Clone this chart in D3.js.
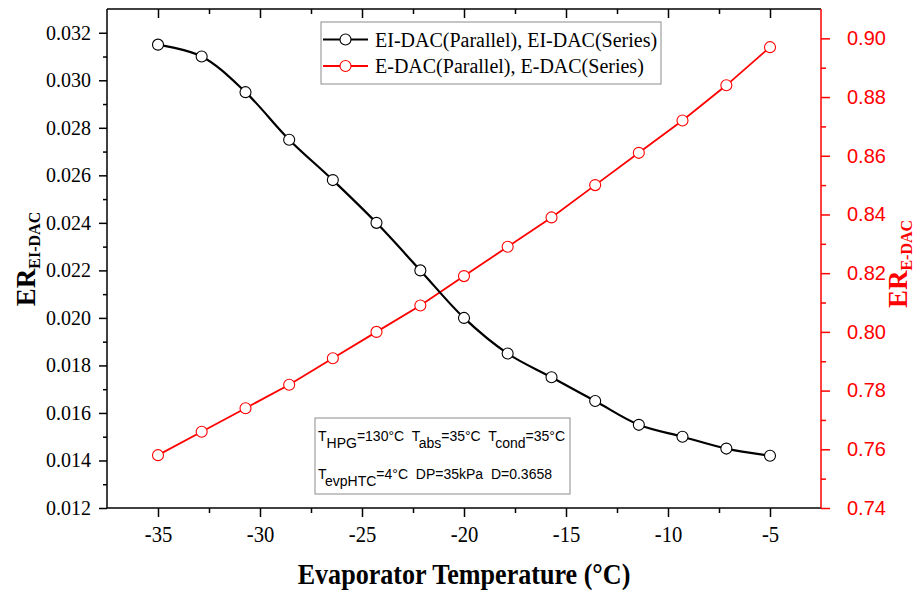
<!DOCTYPE html>
<html>
<head>
<meta charset="utf-8">
<script src="https://cdn.jsdelivr.net/npm/d3@7"></script>
<style>
  body { margin: 0; background: #fff; }
  svg { font-family: "Liberation Serif", "Times New Roman", serif; }
  .serif { font-family: "Liberation Serif", "Times New Roman", serif; }
  .sans { font-family: "Liberation Sans", Arial, sans-serif; }
</style>
</head>
<body>
<div id="chart"></div>
<script>
// Datos
const temperaturas = [-35, -32.86, -30.71, -28.57, -26.43, -24.29, -22.14, -20, -17.86, -15.71, -13.57, -11.43, -9.29, -7.14, -5];
const erEIDAC = [0.0315, 0.0310, 0.0295, 0.0275, 0.0258, 0.0240, 0.0220, 0.0200, 0.0185, 0.0175, 0.0165, 0.0155, 0.0150, 0.0145, 0.0142];
const erEDAC = [0.758, 0.766, 0.774, 0.782, 0.791, 0.800, 0.809, 0.819, 0.829, 0.839, 0.850, 0.861, 0.872, 0.884, 0.897];

const ticksX = [-35, -30, -25, -20, -15, -10, -5];
const ticksIzq = [0.012, 0.014, 0.016, 0.018, 0.020, 0.022, 0.024, 0.026, 0.028, 0.030, 0.032];
const ticksDer = [0.74, 0.76, 0.78, 0.80, 0.82, 0.84, 0.86, 0.88, 0.90];

const width = 918;
const height = 592;
const m = { left: 107, right: 821, top: 9, bottom: 508 };

const svg = d3.select("#chart")
    .append("svg")
    .attr("width", width)
    .attr("height", height);

const x = d3.scaleLinear().domain([-37.5, -2.5]).range([m.left, m.right]);
const yIzq = d3.scaleLinear().domain([0.012, 0.033]).range([m.bottom, m.top]);
const yDer = d3.scaleLinear().domain([0.74, 0.91]).range([m.bottom, m.top]);

// Ticks menores a mitad de intervalo
const menores = arr => arr.slice(0, -1).map((v, i) => (v + arr[i + 1]) / 2);

function estilo(g, color, clase, tam) {
    g.attr("font-family", null).attr("font-size", null);
    g.select(".domain").remove();
    g.selectAll("line").attr("stroke", color).attr("stroke-width", 1.5);
    g.selectAll("text").attr("fill", color).attr("class", clase).style("font-size", (tam || 20) + "px");
}

// Eje inferior (etiquetas algo estrechas, como en el original)
svg.append("g").attr("transform", `translate(0,${m.bottom})`)
    .call(d3.axisBottom(x).tickValues(ticksX).tickSize(9).tickPadding(8).tickFormat(d => String(d)))
    .call(g => estilo(g, "#000", "serif", 24))
    .call(g => g.selectAll("text").attr("transform", "scale(0.86,1)"));
svg.append("g").attr("transform", `translate(0,${m.bottom})`)
    .call(d3.axisBottom(x).tickValues(menores(ticksX)).tickSize(5).tickFormat(""))
    .call(g => estilo(g, "#000", "serif"));

// Eje superior (ticks hacia dentro)
svg.append("g").attr("transform", `translate(0,${m.top})`)
    .call(d3.axisTop(x).tickValues(ticksX).tickSize(-9).tickFormat(""))
    .call(g => estilo(g, "#000", "serif"));
svg.append("g").attr("transform", `translate(0,${m.top})`)
    .call(d3.axisTop(x).tickValues(menores(ticksX)).tickSize(-5).tickFormat(""))
    .call(g => estilo(g, "#000", "serif"));

// Eje izquierdo
svg.append("g").attr("transform", `translate(${m.left},0)`)
    .call(d3.axisLeft(yIzq).tickValues(ticksIzq).tickSize(8).tickPadding(8).tickFormat(d3.format(".3f")))
    .call(g => estilo(g, "#000", "serif"));
svg.append("g").attr("transform", `translate(${m.left},0)`)
    .call(d3.axisLeft(yIzq).tickValues(menores(ticksIzq)).tickSize(4).tickFormat(""))
    .call(g => estilo(g, "#000", "serif"));

// Eje derecho
svg.append("g").attr("transform", `translate(${m.right},0)`)
    .call(d3.axisRight(yDer).tickValues(ticksDer).tickSize(9).tickPadding(17).tickFormat(d3.format(".2f")))
    .call(g => estilo(g, "#ff0000", "sans"));
svg.append("g").attr("transform", `translate(${m.right},0)`)
    .call(d3.axisRight(yDer).tickValues(menores(ticksDer)).tickSize(5).tickFormat(""))
    .call(g => estilo(g, "#ff0000", "sans"));

// Marco
svg.append("line").attr("x1", m.left).attr("x2", m.right).attr("y1", m.top).attr("y2", m.top)
    .attr("stroke", "#000").attr("stroke-width", 1.5);
svg.append("line").attr("x1", m.left).attr("x2", m.right).attr("y1", m.bottom).attr("y2", m.bottom)
    .attr("stroke", "#000").attr("stroke-width", 1.5);
svg.append("line").attr("x1", m.left).attr("x2", m.left).attr("y1", m.top).attr("y2", m.bottom)
    .attr("stroke", "#000").attr("stroke-width", 1.5);
svg.append("line").attr("x1", m.right).attr("x2", m.right).attr("y1", m.top).attr("y2", m.bottom)
    .attr("stroke", "#ff0000").attr("stroke-width", 1.5);

// Series
const datosNegro = temperaturas.map((t, i) => ({ t, v: erEIDAC[i] }));
const datosRojo = temperaturas.map((t, i) => ({ t, v: erEDAC[i] }));

const lineaNegra = d3.line().x(d => x(d.t)).y(d => yIzq(d.v)).curve(d3.curveCatmullRom);
const lineaRoja = d3.line().x(d => x(d.t)).y(d => yDer(d.v));

svg.append("path").datum(datosRojo)
    .attr("d", lineaRoja).attr("fill", "none").attr("stroke", "#ff0000").attr("stroke-width", 1.8);
svg.append("path").datum(datosNegro)
    .attr("d", lineaNegra).attr("fill", "none").attr("stroke", "#000").attr("stroke-width", 2.2);

svg.selectAll("circle.rojo").data(datosRojo).enter().append("circle")
    .attr("class", "rojo")
    .attr("cx", d => x(d.t)).attr("cy", d => yDer(d.v)).attr("r", 5.5)
    .attr("fill", "#fff").attr("stroke", "#ff0000").attr("stroke-width", 1.1);
svg.selectAll("circle.negro").data(datosNegro).enter().append("circle")
    .attr("class", "negro")
    .attr("cx", d => x(d.t)).attr("cy", d => yIzq(d.v)).attr("r", 5.5)
    .attr("fill", "#fff").attr("stroke", "#000").attr("stroke-width", 1.1);

// Títulos de ejes
svg.append("text")
    .attr("class", "serif")
    .attr("transform", "translate(464,584) scale(0.9,1)")
    .attr("text-anchor", "middle")
    .style("font-size", "29px").style("font-weight", "bold")
    .text("Evaporator Temperature (°C)");

const tituloIzq = svg.append("text")
    .attr("class", "serif")
    .attr("transform", "translate(35,259) rotate(-90)")
    .attr("text-anchor", "middle")
    .style("font-weight", "bold").attr("fill", "#000");
tituloIzq.append("tspan").style("font-size", "27px").text("ER");
tituloIzq.append("tspan").style("font-size", "16px").attr("dy", 5).text("EI-DAC");

const tituloDer = svg.append("text")
    .attr("class", "serif")
    .attr("transform", "translate(907,264) rotate(-90)")
    .attr("text-anchor", "middle")
    .style("font-weight", "bold").attr("fill", "#ff0000");
tituloDer.append("tspan").style("font-size", "27px").text("ER");
tituloDer.append("tspan").style("font-size", "16px").attr("dy", 5).text("E-DAC");

// Leyenda
const leyenda = svg.append("g");
leyenda.append("rect")
    .attr("x", 321).attr("y", 22).attr("width", 340).attr("height", 62)
    .attr("fill", "#fff").attr("stroke", "#8c8c8c").attr("stroke-width", 1);

const entradas = [
    { nombre: "EI-DAC(Parallel), EI-DAC(Series)", color: "#000", ancho: 2.2 },
    { nombre: "E-DAC(Parallel), E-DAC(Series)", color: "#ff0000", ancho: 1.8 }
];
entradas.forEach((e, i) => {
    const fila = leyenda.append("g").attr("transform", `translate(0,${39.5 + i * 26.5})`);
    fila.append("line").attr("x1", 323).attr("x2", 368)
        .attr("stroke", e.color).attr("stroke-width", e.ancho);
    fila.append("circle").attr("cx", 345.5).attr("r", 5.5)
        .attr("fill", "#fff").attr("stroke", e.color).attr("stroke-width", 1.1);
    fila.append("text").attr("class", "serif").attr("x", 375).attr("y", 7)
        .style("font-size", "20px").attr("fill", "#000")
        .text(e.nombre);
});

// Cuadro de condiciones
const nota = svg.append("g");
nota.append("rect")
    .attr("x", 315).attr("y", 418).attr("width", 255).attr("height", 76)
    .attr("fill", "#fff").attr("stroke", "#8c8c8c").attr("stroke-width", 1);

const lineasNota = [
    [["T", "HPG", "=130°C  "], ["T", "abs", "=35°C  "], ["T", "cond", "=35°C"]],
    [["T", "evpHTC", "=4°C  DP=35kPa  D=0.3658"]]
];
lineasNota.forEach((partes, i) => {
    const t = nota.append("text")
        .attr("class", "sans")
        .attr("x", 318).attr("y", 441 + i * 38)
        .style("font-size", "14px").attr("fill", "#000")
        .style("white-space", "pre");
    partes.forEach(p => {
        t.append("tspan").text(p[0]);
        t.append("tspan").attr("dy", 7).text(p[1]);
        t.append("tspan").attr("dy", -7).text(p[2]);
    });
});
</script>
</body>
</html>
